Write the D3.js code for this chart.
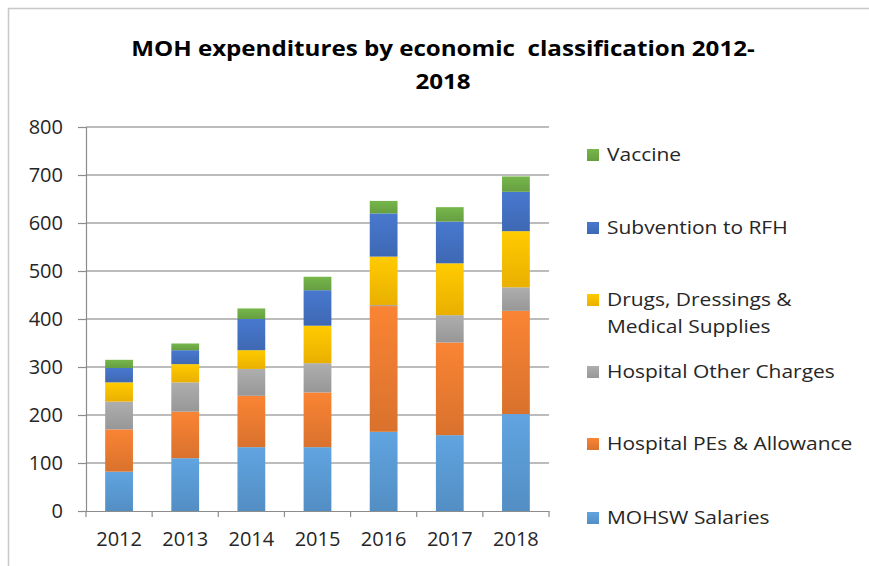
<!DOCTYPE html>
<html><head><meta charset="utf-8">
<script src="https://cdn.jsdelivr.net/npm/d3@7"></script>
<style>body{margin:0;background:#fff;}svg{display:block;font-family:"Open Sans",sans-serif;}</style>
</head><body>
<svg id="c" width="869" height="566"></svg>
<script>
const years = ["2012","2013","2014","2015","2016","2017","2018"];
const seriesNames = ["MOHSW Salaries","Hospital PEs & Allowance","Hospital Other Charges","Drugs, Dressings & Medical Supplies","Subvention to RFH","Vaccine"];
const salaries = [82,110,133,133,165,158,202];
const hospitalPEs = [88,97,107,114,262,193,215];
const otherCharges = [58,61,56,61,2,57,49];
const drugs = [40,38,39,78,101,108,117];
const subvention = [30,29,65,74,90,87,82];
const vaccine = [17,14,22,28,26,30,32];
const yTicks = [0,100,200,300,400,500,600,700,800];
const colors = ["#5b9bd5","#ed7d31","#a5a5a5","#ffc000","#4472c4","#70ad47"];

const seriesValues = [salaries,hospitalPEs,otherCharges,drugs,subvention,vaccine];
const table = years.map((y,i)=>{const o={year:y};seriesNames.forEach((s,j)=>o[s]=seriesValues[j][i]);return o;});

const svg = d3.select("#c");
const m = {left:86,right:549,top:127,bottom:511};

// frame
svg.append("path").attr("d","M8.5,566 V8.5 H869").attr("fill","none").attr("stroke","#c8c8c8").attr("stroke-width",1.5);

const x = d3.scaleBand().domain(years).range([m.left,m.right]).paddingInner(0.58).paddingOuter(0.29);
const y = d3.scaleLinear().domain([0,800]).range([m.bottom,m.top]);

const defs = svg.append("defs");
colors.forEach((c,i)=>{
  const g = defs.append("linearGradient").attr("id","g"+i).attr("x1",0).attr("x2",0).attr("y1",0).attr("y2",1);
  g.append("stop").attr("offset","0%").attr("stop-color",d3.color(c).brighter(0.15));
  g.append("stop").attr("offset","100%").attr("stop-color",d3.color(c).darker(0.25));
});

// gridlines
svg.append("g").selectAll("line").data(yTicks.slice(1)).join("line")
  .attr("x1",m.left).attr("x2",m.right).attr("y1",d=>y(d)).attr("y2",d=>y(d))
  .attr("stroke","#a6a6a6").attr("stroke-width",1.5);

// bars
const stack = d3.stack().keys(seriesNames)(table);
svg.append("g").selectAll("g").data(stack).join("g")
  .attr("fill",(d,i)=>`url(#g${i})`)
  .selectAll("rect").data(d=>d).join("rect")
  .attr("x",d=>x(d.data.year)).attr("width",x.bandwidth())
  .attr("y",d=>y(d[1])).attr("height",d=>y(d[0])-y(d[1]));

// y axis
const yAxis = svg.append("g").attr("transform",`translate(${m.left},0)`)
  .call(d3.axisLeft(y).tickValues(yTicks).tickSize(8).tickPadding(15));
yAxis.select(".domain").attr("stroke","#8c8c8c").attr("stroke-width",1.2);
yAxis.selectAll(".tick line").attr("stroke","#8c8c8c").attr("stroke-width",1.2);
yAxis.selectAll("text").attr("font-size",20).attr("fill","#262626").attr("font-family","'Open Sans',sans-serif");

// x axis
const xAxis = svg.append("g").attr("transform",`translate(0,${m.bottom})`)
  .call(d3.axisBottom(x).tickSizeOuter(0).tickSize(0).tickPadding(21));
xAxis.select(".domain").attr("stroke","#8c8c8c").attr("stroke-width",1.2);
xAxis.selectAll("text").attr("font-size",20).attr("fill","#262626").attr("font-family","'Open Sans',sans-serif");
const bounds = d3.range(years.length+1).map(i=>m.left + i*(m.right-m.left)/years.length);
xAxis.append("g").selectAll("line").data(bounds).join("line")
  .attr("x1",d=>d).attr("x2",d=>d).attr("y1",0).attr("y2",6)
  .attr("stroke","#8c8c8c").attr("stroke-width",1.2);

// title
const tcx = 443;
const title = svg.append("text").attr("text-anchor","middle").attr("font-weight","bold").attr("font-size",21).attr("fill","#000")
  .attr("transform",`translate(${tcx},0) scale(1.15,1) translate(${-tcx},0)`);
title.append("tspan").attr("x",tcx).attr("y",56).attr("xml:space","preserve").text("MOH expenditures by economic  classification 2012-");
title.append("tspan").attr("x",tcx).attr("y",89).text("2018");

// legend
const legendItems = [
  {i:5, lines:["Vaccine"], y:155},
  {i:4, lines:["Subvention to RFH"], y:228},
  {i:3, lines:["Drugs, Dressings &","Medical Supplies"], y:300},
  {i:2, lines:["Hospital Other Charges"], y:372},
  {i:1, lines:["Hospital PEs & Allowance"], y:444},
  {i:0, lines:["MOHSW Salaries"], y:518}
];
const lx = 607;
const lg = svg.append("g").selectAll("g").data(legendItems).join("g");
lg.append("rect").attr("x",587).attr("y",d=>d.y-6).attr("width",12).attr("height",12).attr("fill",d=>`url(#g${d.i})`);
lg.each(function(d){
  const t = d3.select(this).append("text").attr("font-size",18).attr("fill","#262626")
    .attr("transform",`translate(${lx},0) scale(1.165,1) translate(${-lx},0)`);
  d.lines.forEach((l,k)=>t.append("tspan").attr("x",lx).attr("y",d.y+6+k*27).text(l));
});
</script>
</body></html>
